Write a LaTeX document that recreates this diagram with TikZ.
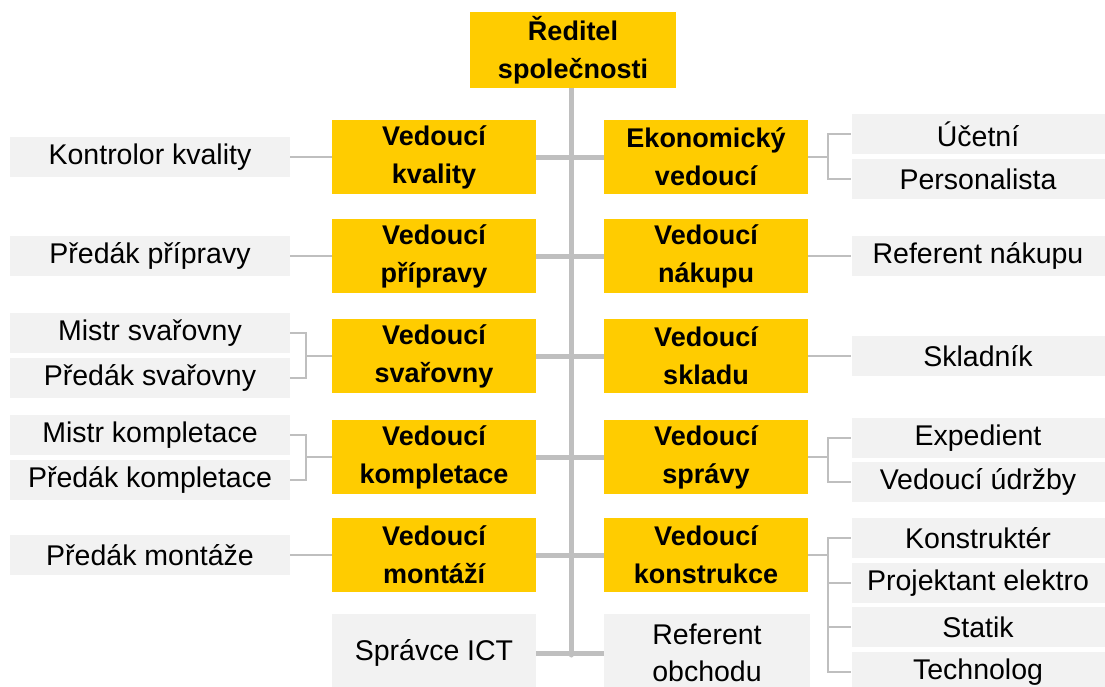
\documentclass[tikz,border=0pt]{standalone}
\usepackage{fontspec}
\setmainfont{Liberation Sans}
\usetikzlibrary{backgrounds}
\definecolor{zlata}{HTML}{FFCC00}
\definecolor{sedabox}{HTML}{F2F2F2}
\definecolor{linka}{HTML}{BFBFBF}

\begin{document}
\begin{tikzpicture}[x=1pt,y=-1pt,
  vedouci/.style={fill=zlata,minimum width=204pt,minimum height=74pt,inner sep=0pt,align=center,font=\bfseries\fontsize{27}{38}\selectfont},
  pozice/.style={fill=sedabox,minimum width=280pt,minimum height=40pt,inner sep=0pt,align=center,font=\fontsize{28.5}{37}\selectfont},
  vpravo/.style={pozice,minimum width=253pt},
  kmen/.style={draw=linka,line width=5pt,line cap=round},
  vetev/.style={draw=linka,line width=2.5pt}]
  \useasboundingbox (0,0) rectangle (1105,686);

  \node[vedouci,minimum width=206pt,minimum height=76pt] (rd) at (573,50) {Ředitel\\společnosti};

  % levá strana
  \node[vedouci] (kv) at (434,157) {Vedoucí\\kvality};
  \node[vedouci] (pr) at (434,256) {Vedoucí\\přípravy};
  \node[vedouci] (sv) at (434,356) {Vedoucí\\svařovny};
  \node[vedouci] (kp) at (434,457) {Vedoucí\\kompletace};
  \node[vedouci] (mo) at (434,555) {Vedoucí\\montáží};
  \node[pozice,minimum width=204pt,minimum height=78pt] (ict) at (434,653) {Správce ICT};

  \node[pozice] (kk) at (150,157) {Kontrolor kvality};
  \node[pozice] (pp) at (150,256) {Předák přípravy};
  \node[pozice] (ms) at (150,333) {Mistr svařovny};
  \node[pozice] (ps) at (150,378) {Předák svařovny};
  \node[pozice] (mk) at (150,435) {Mistr kompletace};
  \node[pozice] (pk) at (150,480) {Předák kompletace};
  \node[pozice] (pm) at (150,555) {Předák montáže};

  % pravá strana
  \node[vedouci] (ek) at (706,157) {Ekonomický\\vedoucí};
  \node[vedouci] (na) at (706,256) {Vedoucí\\nákupu};
  \node[vedouci] (sk) at (706,356) {Vedoucí\\skladu};
  \node[vedouci] (sp) at (706,457) {Vedoucí\\správy};
  \node[vedouci] (kn) at (706,555) {Vedoucí\\konstrukce};
  \node[pozice,minimum width=206pt,minimum height=78pt] (ob) at (707,653) {Referent\\obchodu};

  \node[vpravo] (uc) at (978,134) {Účetní};
  \node[vpravo] (pe) at (978,179) {Personalista};
  \node[vpravo] (rn) at (978,256) {Referent nákupu};
  \node[vpravo] (sd) at (978,356) {Skladník};
  \node[vpravo] (ex) at (978,438) {Expedient};
  \node[vpravo] (ud) at (978,482) {Vedoucí údržby};
  \node[vpravo] (ko) at (978,538) {Konstruktér};
  \node[vpravo] (pj) at (978,583) {Projektant elektro};
  \node[vpravo] (st) at (978,627) {Statik};
  \node[vpravo] (te) at (978,672) {Technolog};

  \coordinate (konec) at (571,655);

  \begin{scope}[on background layer]
    \draw[kmen] (rd.south -| konec) -- (konec);
    \foreach \l/\p in {kv/ek,pr/na,sv/sk,kp/sp,mo/kn,ict/ob}
      \draw[kmen] (\l.east) -- (\p.west);

    \draw[vetev] (kk.east) -- (kv.west);
    \draw[vetev] (pp.east) -- (pr.west);
    \draw[vetev] (pm.east) -- (mo.west);
    \foreach \g in {ms,ps}
      \draw[vetev] (\g.east) -- ++(16,0) |- (sv.west);
    \foreach \g in {mk,pk}
      \draw[vetev] (\g.east) -- ++(16,0) |- (kp.west);

    \draw[vetev] (na.east) -- (rn.west);
    \draw[vetev] (sk.east) -- (sd.west);
    \foreach \g in {uc,pe}
      \draw[vetev] (ek.east) -- ++(20,0) |- (\g.west);
    \foreach \g in {ex,ud}
      \draw[vetev] (sp.east) -- ++(20,0) |- (\g.west);
    \foreach \g in {ko,pj,st,te}
      \draw[vetev] (kn.east) -- ++(20,0) |- (\g.west);
  \end{scope}
\end{tikzpicture}
\end{document}
